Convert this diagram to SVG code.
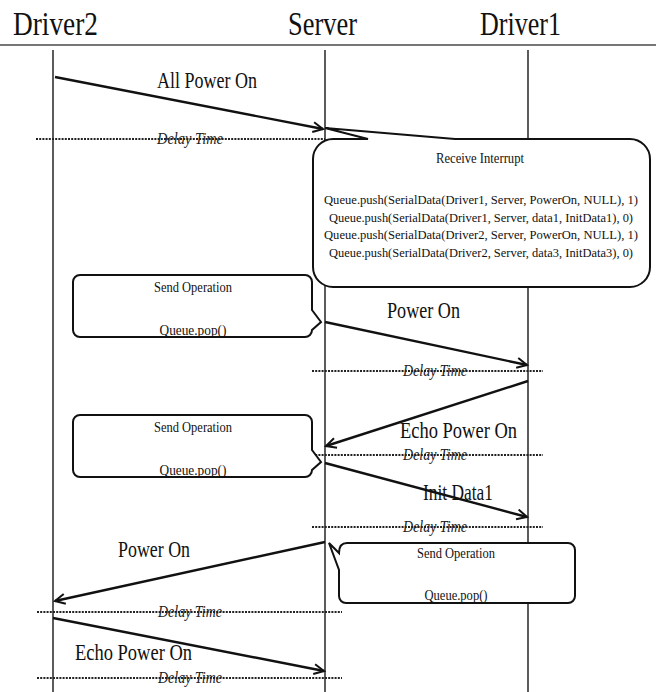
<svg xmlns="http://www.w3.org/2000/svg" width="661" height="692" viewBox="0 0 661 692">
<style>
.hdr{font-family:"Liberation Serif","Times New Roman",serif;font-size:33px;fill:#111}
.msg{font-family:"Liberation Serif","Times New Roman",serif;font-size:23px;fill:#111}
.note{font-family:"Liberation Serif","Times New Roman",serif;font-size:15px;fill:#111}
.small{font-family:"Liberation Serif","Times New Roman",serif;font-size:13px;fill:#111}
.delay{font-family:"Liberation Serif","Times New Roman",serif;font-size:16px;font-style:italic;fill:#222}
.life{stroke:#333;stroke-width:1.6;fill:none}
.arrow{stroke:#111;stroke-width:2.4;fill:none;marker-end:url(#ah)}
.dot{stroke:#222;stroke-width:2.2;stroke-dasharray:2 1.2;fill:none}
.box{fill:#fff;stroke:#111;stroke-width:2}
</style>
<defs>
<marker id="ah" markerUnits="userSpaceOnUse" markerWidth="14" markerHeight="14" refX="11" refY="6" orient="auto">
<path d="M1,1 L11,6 L1,11" fill="none" stroke="#111" stroke-width="2"/>
</marker>
</defs>
<rect width="661" height="692" fill="#fff"/>
<line x1="0" y1="45" x2="656" y2="45" stroke="#777" stroke-width="2"/>
<g id="driver2">
<text class="hdr" x="13" y="35" textLength="85" lengthAdjust="spacingAndGlyphs">Driver2</text>
<line class="life" x1="53" y1="50" x2="53" y2="692"/>
</g>
<g id="server">
<text class="hdr" x="288" y="35" textLength="69" lengthAdjust="spacingAndGlyphs">Server</text>
<line class="life" x1="325" y1="50" x2="325" y2="692"/>
</g>
<g id="driver1">
<text class="hdr" x="480" y="35" textLength="81" lengthAdjust="spacingAndGlyphs">Driver1</text>
<line class="life" x1="528" y1="50" x2="528" y2="692"/>
</g>
<g id="connectors">
<line class="dot" x1="36" y1="139" x2="325" y2="139"/>
<text class="delay" x="190" y="144" text-anchor="middle" textLength="66" lengthAdjust="spacingAndGlyphs">Delay Time</text>
<line class="arrow" x1="55" y1="77" x2="323" y2="129"/>
<text class="msg" x="157" y="88" textLength="100" lengthAdjust="spacingAndGlyphs">All Power On</text>

<line class="arrow" x1="325" y1="322" x2="527" y2="365"/>
<text class="msg" x="387" y="318" textLength="73" lengthAdjust="spacingAndGlyphs">Power On</text>
<line class="dot" x1="312" y1="371" x2="543" y2="371"/>
<text class="delay" x="435" y="376" text-anchor="middle" textLength="64" lengthAdjust="spacingAndGlyphs">Delay Time</text>

<line class="arrow" x1="528" y1="381" x2="326" y2="446"/>
<text class="msg" x="400" y="438" textLength="117" lengthAdjust="spacingAndGlyphs">Echo Power On</text>
<line class="dot" x1="312" y1="455" x2="543" y2="455"/>
<text class="delay" x="435" y="460" text-anchor="middle" textLength="64" lengthAdjust="spacingAndGlyphs">Delay Time</text>

<line class="arrow" x1="325" y1="463" x2="527" y2="517"/>
<text class="msg" x="423" y="500" textLength="70" lengthAdjust="spacingAndGlyphs">Init Data1</text>
<line class="dot" x1="312" y1="527" x2="543" y2="527"/>
<text class="delay" x="435" y="532" text-anchor="middle" textLength="64" lengthAdjust="spacingAndGlyphs">Delay Time</text>

<line class="arrow" x1="325" y1="542" x2="55" y2="601"/>
<text class="msg" x="118" y="557" textLength="72" lengthAdjust="spacingAndGlyphs">Power On</text>
<line class="dot" x1="37" y1="612" x2="342" y2="612"/>
<text class="delay" x="190" y="617" text-anchor="middle" textLength="64" lengthAdjust="spacingAndGlyphs">Delay Time</text>

<line class="arrow" x1="53" y1="618" x2="324" y2="671"/>
<text class="msg" x="75" y="660" textLength="117" lengthAdjust="spacingAndGlyphs">Echo Power On</text>
<line class="dot" x1="37" y1="678" x2="342" y2="678"/>
<text class="delay" x="190" y="683" text-anchor="middle" textLength="64" lengthAdjust="spacingAndGlyphs">Delay Time</text>
</g>
<g id="receive-interrupt">
<path class="box" d="M333,139 L368,139 L325,128 L455,139 L630,139 A20,20 0 0 1 650,159 L650,267 A20,20 0 0 1 630,287 L333,287 A20,20 0 0 1 313,267 L313,159 A20,20 0 0 1 333,139 Z"/>
<text class="note" x="480" y="163" text-anchor="middle" textLength="88" lengthAdjust="spacingAndGlyphs">Receive Interrupt</text>
<text class="small" x="481" y="204" text-anchor="middle" textLength="314" lengthAdjust="spacingAndGlyphs">Queue.push(SerialData(Driver1, Server, PowerOn, NULL), 1)</text>
<text class="small" x="481" y="222" text-anchor="middle" textLength="304" lengthAdjust="spacingAndGlyphs">Queue.push(SerialData(Driver1, Server, data1, InitData1), 0)</text>
<text class="small" x="481" y="239" text-anchor="middle" textLength="314" lengthAdjust="spacingAndGlyphs">Queue.push(SerialData(Driver2, Server, PowerOn, NULL), 1)</text>
<text class="small" x="481" y="257" text-anchor="middle" textLength="304" lengthAdjust="spacingAndGlyphs">Queue.push(SerialData(Driver2, Server, data3, InitData3), 0)</text>
</g>
<g id="send-operation-1">
<path class="box" d="M80,275 L305,275 A7,7 0 0 1 312,282 L312,310 L321,322 L312,330 A7,7 0 0 1 305,337 L80,337 A7,7 0 0 1 73,330 L73,282 A7,7 0 0 1 80,275 Z"/>
<text class="note" x="193" y="292" text-anchor="middle" textLength="78" lengthAdjust="spacingAndGlyphs">Send Operation</text>
<text class="note" x="193" y="335" text-anchor="middle" textLength="67" lengthAdjust="spacingAndGlyphs">Queue.pop()</text>
</g>
<g id="send-operation-2">
<path class="box" d="M80,415 L305,415 A7,7 0 0 1 312,422 L312,450 L321,462 L312,470 A7,7 0 0 1 305,477 L80,477 A7,7 0 0 1 73,470 L73,422 A7,7 0 0 1 80,415 Z"/>
<text class="note" x="193" y="432" text-anchor="middle" textLength="78" lengthAdjust="spacingAndGlyphs">Send Operation</text>
<text class="note" x="193" y="475" text-anchor="middle" textLength="67" lengthAdjust="spacingAndGlyphs">Queue.pop()</text>
</g>
<g id="send-operation-3">
<path class="box" d="M347,543 L568,543 A7,7 0 0 1 575,550 L575,596 A7,7 0 0 1 568,603 L346,603 A7,7 0 0 1 339,596 L339,570 L329,543 L339,553 Q339,543 347,543 Z"/>
<text class="note" x="456" y="558" text-anchor="middle" textLength="78" lengthAdjust="spacingAndGlyphs">Send Operation</text>
<text class="note" x="456" y="600" text-anchor="middle" textLength="63" lengthAdjust="spacingAndGlyphs">Queue.pop()</text>
</g>
</svg>
